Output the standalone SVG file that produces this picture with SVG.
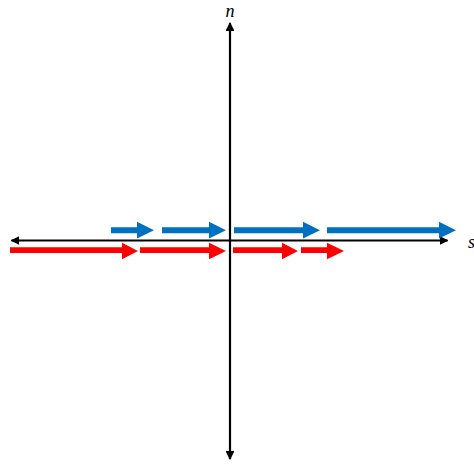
<svg xmlns="http://www.w3.org/2000/svg" width="474" height="464" viewBox="0 0 474 464">
<style>
.ax{stroke:#000;stroke-width:2.2;fill:none}
.blue{fill:#0070C0}
.red{fill:#FF0000}
.lbl{font-family:"Liberation Serif",serif;font-style:italic;font-size:18px;fill:#000}
</style>
<defs>
<marker id="ah" viewBox="0 0 10 10" refX="9" refY="5" markerWidth="4" markerHeight="4" orient="auto-start-reverse" markerUnits="strokeWidth">
<path d="M0,0 L10,5 L0,10 z" fill="#000"/>
</marker>
</defs>
<g id="connectors">
<line class="ax" x1="11.5" y1="240.5" x2="447.5" y2="240.5" marker-start="url(#ah)" marker-end="url(#ah)"/>
<line class="ax" x1="230" y1="23" x2="230" y2="459" marker-start="url(#ah)" marker-end="url(#ah)"/>
</g>
<g id="blue-arrows">
<polygon id="b1" class="blue" points="111,227.3 137,227.3 137,221.7 154,230.3 137,238.6 137,233.3 111,233.3"/>
<polygon id="b2" class="blue" points="162,227.3 209,227.3 209,221.7 226,230.3 209,238.6 209,233.3 162,233.3"/>
<polygon id="b3" class="blue" points="234,227.3 303,227.3 303,221.7 320,230.3 303,238.6 303,233.3 234,233.3"/>
<polygon id="b4" class="blue" points="327,227.3 439,227.3 439,221.7 456,230.3 439,238.6 439,233.3 327,233.3"/>
</g>
<g id="red-arrows">
<polygon id="r1" class="red" points="10,247.3 122,247.3 122,242.7 138,251 122,259.3 122,253 10,253"/>
<polygon id="r2" class="red" points="140,247.3 209,247.3 209,242.7 226,251 209,259.3 209,253 140,253"/>
<polygon id="r3" class="red" points="233,247.3 282,247.3 282,242.7 298,251 282,259.3 282,253 233,253"/>
<polygon id="r4" class="red" points="301,247.3 327,247.3 327,242.7 344,251 327,259.3 327,253 301,253"/>
</g>
<text class="lbl" x="230" y="17" text-anchor="middle">n</text>
<text class="lbl" x="468" y="248">s</text>
</svg>
